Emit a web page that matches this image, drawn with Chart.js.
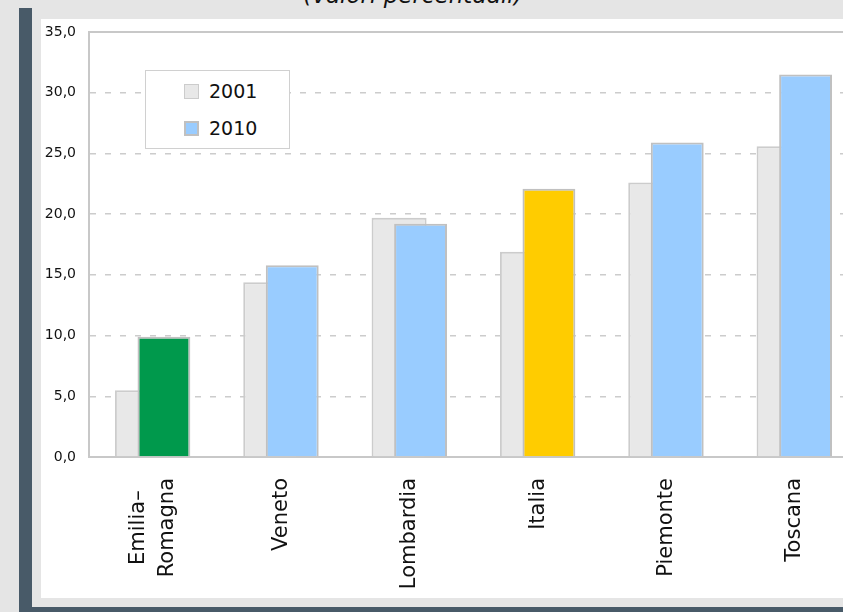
<!DOCTYPE html>
<html>
<head>
<meta charset="utf-8">
<script src="https://cdn.jsdelivr.net/npm/chart.js@4.4.1/dist/chart.umd.min.js"></script>
<style>
    html, body { margin: 0; padding: 0; }
    body { width: 843px; height: 612px; overflow: hidden; position: relative; background: #e5e5e5; font-family: "DejaVu Sans", sans-serif; }
    .band { position: absolute; background: #485a68; }
    #band-left { left: 19px; top: 8px; width: 13px; height: 604px; }
    #band-bottom { left: 19px; top: 607px; width: 824px; height: 5px; }
    #title { position: absolute; left: 0; top: -16px; width: 826px; text-align: center; font-style: italic; font-size: 23px; line-height: 23px; color: #111; }
    #panel { position: absolute; left: 41px; top: 19px; width: 840px; height: 579px; background: #fff; }
    #legend { position: absolute; left: 145px; top: 70px; width: 143px; height: 77px; background: #fff; border: 1px solid #d0d0d0; }
    .legend-item { position: absolute; left: 38px; height: 24px; display: flex; align-items: center; font-size: 19px; color: #111; }
    .legend-swatch { width: 15px; height: 15px; margin-right: 10px; box-sizing: border-box; }
</style>
</head>
<body>
<div class="band" id="band-left"></div>
<div class="band" id="band-bottom"></div>
<div id="title">(valori percentuali)</div>
<div id="panel"><canvas id="chart" width="840" height="579"></canvas></div>
<div id="legend"></div>

<script>
// --- Dati ---
const categories = [['Emilia–', 'Romagna'], 'Veneto', 'Lombardia', 'Italia', 'Piemonte', 'Toscana'];
const seriesNames = ['2001', '2010'];
const values2001 = [5.5, 14.4, 19.7, 16.9, 22.6, 25.6];
const values2010 = [9.9, 15.8, 19.2, 22.1, 25.9, 31.5];
const yMin = 0;
const yMax = 35;
const yStep = 5;

// --- Stili ---
const fill2001 = '#e8e8e8';
const border2001 = '#cccccc';
const fill2010 = '#99ccff';
const border2010 = '#c0c0c0';
const highlight = { 'Emilia–Romagna': '#00994c', 'Italia': '#ffcc00' };
const axisColor = '#c8c8c8';
const labelFont = { family: '"DejaVu Sans", sans-serif', size: 21, lineHeight: 1.4 };

const labelKey = l => Array.isArray(l) ? l.join('') : l;
const colors2010 = categories.map(c => highlight[labelKey(c)] || fill2010);

// La serie 2010 va disegnata sopra la 2001 (le barre si sovrappongono)
const drawOrderPlugin = {
    id: 'drawOrder',
    beforeDatasetsDraw(chart) {
        chart.data.datasets.forEach((ds, i) => {
            const meta = chart.getDatasetMeta(i);
            if (!meta.hidden) meta.controller.draw();
        });
        return false;
    }
};

// etichette su più righe: centrate sul tick e tra di loro
const centerLabelsPlugin = {
    id: 'centerLabels',
    beforeDraw(chart) {
        const items = chart.scales.x.getLabelItems();
        const c = chart.ctx;
        items.forEach(item => {
            if (!Array.isArray(item.label) || item.label.length < 2) return;
            const n = item.label.length;
            const lh = item.font.lineHeight;
            c.save();
            c.font = item.font.string;
            const widest = Math.max(...item.label.map(t => c.measureText(t).width));
            c.restore();
            item.textOffset -= (n - 1) * lh / 2;
            item.options.textAlign = 'center';
            item.options.translation = [item.options.translation[0], item.options.translation[1] + widest / 2];
        });
    }
};

const ctx = document.getElementById('chart').getContext('2d');
new Chart(ctx, {
    type: 'bar',
    data: {
        labels: categories,
        datasets: [
            {
                label: seriesNames[0],
                data: values2001,
                backgroundColor: fill2001,
                borderColor: border2001,
                borderWidth: 2,
                categoryPercentage: 0.335,
                barPercentage: 2.56
            },
            {
                label: seriesNames[1],
                data: values2010,
                backgroundColor: colors2010,
                borderColor: border2010,
                borderWidth: 2,
                categoryPercentage: 0.335,
                barPercentage: 2.46
            }
        ]
    },
    options: {
        responsive: false,
        animation: false,
        layout: { padding: { top: 13, right: 22, bottom: 0, left: 0 } },
        plugins: {
            legend: { display: false },
            tooltip: { enabled: false }
        },
        scales: {
            x: {
                grid: { display: false, drawTicks: false },
                border: { color: axisColor, width: 2 },
                ticks: {
                    minRotation: 90,
                    maxRotation: 90,
                    padding: 21,
                    color: '#111',
                    font: labelFont
                },
                afterFit: scale => { scale.height = 141; }
            },
            xTop: {
                type: 'category',
                position: 'top',
                grid: { display: false, drawTicks: false },
                ticks: { display: false },
                border: { color: axisColor, width: 2 },
                afterFit: scale => { scale.height = 0; }
            },
            y: {
                min: yMin,
                max: yMax,
                grid: {
                    drawTicks: false,
                    lineWidth: 1.5,
                    color: c => (c.tick && (c.tick.value === yMin || c.tick.value === yMax)) ? 'rgba(0,0,0,0)' : '#cccccc'
                },
                border: { color: axisColor, width: 2, dash: [6, 9] },
                ticks: {
                    stepSize: yStep,
                    padding: 13,
                    color: '#111',
                    font: { family: '"DejaVu Sans", sans-serif', size: 14 },
                    callback: v => v.toFixed(1).replace('.', ',')
                },
                afterFit: scale => {
                    scale.width = 48;
                    scale.paddingTop = 0;
                }
            }
        }
    },
    plugins: [drawOrderPlugin, centerLabelsPlugin]
});

// --- Legenda ---
const legend = document.getElementById('legend');
const swatches = [
    { fill: fill2001, border: '1px solid ' + border2001 },
    { fill: fill2010, border: '2px solid ' + border2010 }
];
seriesNames.forEach((name, i) => {
    const item = document.createElement('div');
    item.className = 'legend-item';
    item.style.top = (8 + i * 37) + 'px';
    const sw = document.createElement('span');
    sw.className = 'legend-swatch';
    sw.style.background = swatches[i].fill;
    sw.style.border = swatches[i].border;
    item.appendChild(sw);
    item.appendChild(document.createTextNode(name));
    legend.appendChild(item);
});
</script>
</body>
</html>
